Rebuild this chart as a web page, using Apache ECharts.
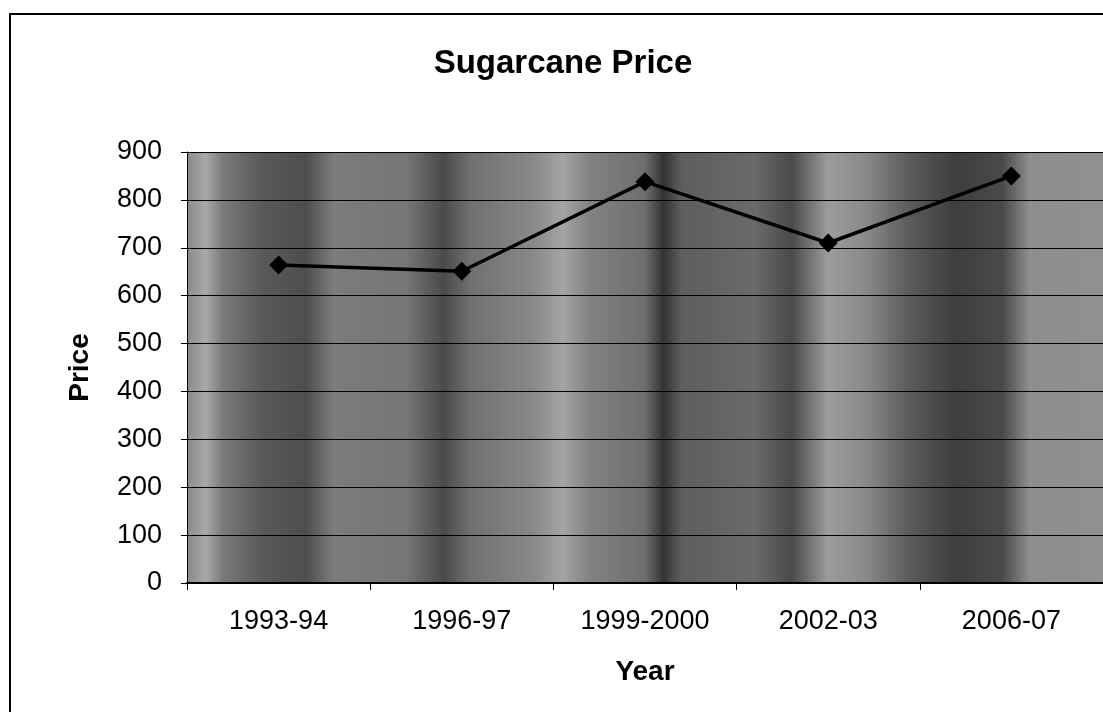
<!DOCTYPE html>
<html>
<head>
<meta charset="utf-8">
<script src="https://cdn.jsdelivr.net/npm/echarts@6/dist/echarts.min.js"></script>
<style>
  html, body { margin: 0; padding: 0; background: #fff; }
  #main { width: 1103px; height: 712px; }
</style>
</head>
<body>
<div id="main"></div>
<script>
var years = ['1993-94', '1996-97', '1999-2000', '2002-03', '2006-07'];
var prices = [664, 651, 838, 710, 850];
var priceTicks = [0, 900, 100]; // min, max, step

// vertical banding of the scanned plot background (offset, grey)
var bandStops = [
  [0.00, '#8a8a8a'], [0.02, '#a8a8a8'], [0.04, '#7a7a7a'], [0.08, '#5a5a5a'],
  [0.13, '#4e4e4e'], [0.16, '#7c7c7c'], [0.24, '#767676'], [0.28, '#4a4a4a'],
  [0.31, '#707070'], [0.38, '#8a8a8a'], [0.41, '#a4a4a4'], [0.44, '#828282'],
  [0.50, '#6e6e6e'], [0.52, '#333333'], [0.54, '#5e5e5e'], [0.62, '#6a6a6a'],
  [0.66, '#4a4a4a'], [0.70, '#9c9c9c'], [0.74, '#8a8a8a'], [0.79, '#5a5a5a'],
  [0.84, '#3e3e3e'], [0.89, '#4a4a4a'], [0.92, '#8e8e8e'], [1.00, '#909090']
];

var myChart = echarts.init(document.getElementById('main'));

var option = {
  backgroundColor: '#fff',
  textStyle: { fontFamily: 'Liberation Sans, Arial, sans-serif', color: '#000' },
  title: {
    text: 'Sugarcane Price',
    left: 558,
    top: 42,
    textAlign: 'center',
    textStyle: { fontSize: 33, fontWeight: 'bold', color: '#000' }
  },
  graphic: [
    {
      type: 'rect',
      shape: { x: 10, y: 14, width: 1200, height: 800 },
      style: { fill: 'none', stroke: '#000', lineWidth: 2 },
      silent: true
    }
  ],
  grid: {
    left: 187,
    top: 152,
    width: 928,
    bottom: 129,
    show: true,
    borderWidth: 0,
    backgroundColor: new echarts.graphic.LinearGradient(0, 0, 1, 0,
      bandStops.map(function (s) { return { offset: s[0], color: s[1] }; }))
  },
  xAxis: {
    type: 'category',
    data: years,
    name: 'Year',
    nameLocation: 'middle',
    nameGap: 75,
    nameTextStyle: { fontSize: 28, fontWeight: 'bold', color: '#000' },
    axisLine: { lineStyle: { color: '#000', width: 2 } },
    axisTick: { show: true, length: 7, lineStyle: { color: '#000' } },
    axisLabel: { fontSize: 27, color: '#000', margin: 25 },
    splitLine: { show: false }
  },
  yAxis: {
    type: 'value',
    min: priceTicks[0],
    max: priceTicks[1],
    interval: priceTicks[2],
    name: 'Price',
    nameLocation: 'middle',
    nameGap: 93,
    nameTextStyle: { fontSize: 28, fontWeight: 'bold', color: '#000' },
    axisLine: { show: true, lineStyle: { color: '#000', width: 1 } },
    axisTick: { show: true, length: 6, lineStyle: { color: '#000' } },
    axisLabel: { fontSize: 27, color: '#000', margin: 25 },
    splitLine: { show: true, lineStyle: { color: '#000', width: 1 } }
  },
  series: [
    {
      type: 'line',
      data: prices,
      symbol: 'diamond',
      symbolSize: 19,
      lineStyle: { color: '#000', width: 3.5 },
      itemStyle: { color: '#000' },
      animation: false
    }
  ]
};

myChart.setOption(option);
</script>
</body>
</html>
